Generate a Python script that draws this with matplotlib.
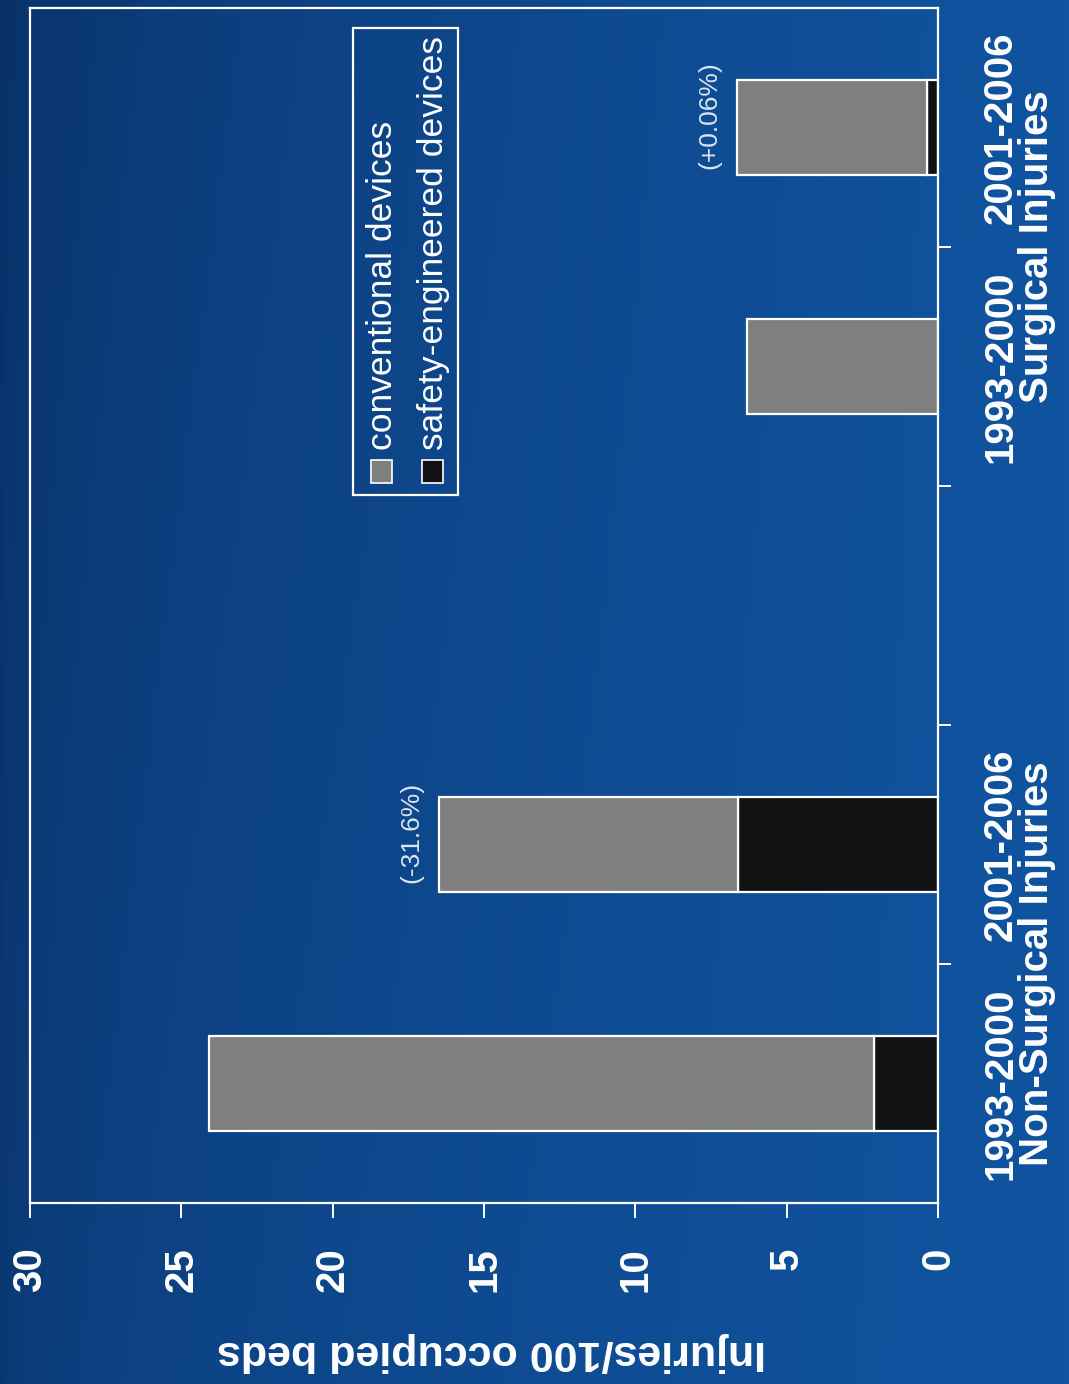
import numpy as np
import matplotlib
matplotlib.use("Agg")
import matplotlib.pyplot as plt
from matplotlib.patches import Rectangle
from matplotlib.transforms import blended_transform_factory

# dados (lesões por 100 leitos ocupados)
periodos = ["1993-2000", "2001-2006", "1993-2000", "2001-2006"]
grupos = ["Non-Surgical Injuries", "Surgical Injuries"]
posicoes = [0, 1, 3, 4]
safety = [2.1, 6.6, 0.0, 0.35]
conventional = [22.0, 9.9, 6.3, 6.3]
variacoes = ["(-31.6%)", "(+0.06%)"]
variacao_pos = [1, 4]
valor_ticks = [0, 5, 10, 15, 20, 25, 30]

W, H = 1069, 1384
fig = plt.figure(figsize=(W / 100, H / 100), dpi=100)
plt.rcParams["font.family"] = ["Liberation Sans", "DejaVu Sans"]

# fundo azul em degradê
bg = fig.add_axes([0, 0, 1, 1], zorder=-10)
xx, yy = np.meshgrid(np.linspace(0, 1, 300), np.linspace(0, 1, 300))
t = np.clip(0.45 + 0.55 * np.sqrt(xx) - 0.15 * (1 - yy) * (1 - xx), 0, 1)
c0 = np.array([6, 32, 78]) / 255
c1 = np.array([16, 84, 160]) / 255
img = c0[None, None, :] * (1 - t[..., None]) + c1[None, None, :] * t[..., None]
bg.imshow(img, aspect="auto", extent=[0, 1, 0, 1])
bg.axis("off")

def fx(px):
    return px / W

def fy(py):
    return 1 - py / H

ax = fig.add_axes([fx(30), fy(1203), fx(938) - fx(30), fy(8) - fy(1203)])
ax.patch.set_alpha(0)

branco = "white"
cinza = "#7f7f7f"
preto = "#121214"

ax.barh(posicoes, safety, height=0.40, color=preto, edgecolor=branco, linewidth=1.6)
ax.barh(posicoes, conventional, left=safety, height=0.40, color=cinza,
        edgecolor=branco, linewidth=1.6)

ax.set_xlim(30, 0)
ax.set_ylim(-0.5, 4.5)

for s in ax.spines.values():
    s.set_color(branco)
    s.set_linewidth(1.6)

ax.set_xticks(valor_ticks)
ax.set_xticklabels([str(v) for v in valor_ticks])
ax.tick_params(axis="x", colors=branco, direction="out", length=11, width=1.4,
               pad=21, labelrotation=90, labelsize=29)
for lab in ax.get_xticklabels():
    lab.set_fontweight("bold")

ax.yaxis.tick_right()
ax.set_yticks([0.5, 1.5, 2.5, 3.5])
ax.set_yticklabels([])
ax.tick_params(axis="y", colors=branco, direction="out", length=9, width=1.4)

# rótulos das categorias (lado direito, girados)
tr = blended_transform_factory(fig.transFigure, ax.transData)
for p, per in zip(posicoes, periodos):
    ax.text(fx(1001), p, per, transform=tr, rotation=90, ha="center", va="center",
            color=branco, fontsize=29, fontweight="bold")
for g, p in zip(grupos, [0.5, 3.5]):
    ax.text(fx(1037), p, g, transform=tr, rotation=90, ha="center", va="center",
            color=branco, fontsize=29, fontweight="bold")

# variações percentuais
totais = [s + c for s, c in zip(safety, conventional)]
for txt, p in zip(variacoes, variacao_pos):
    i = posicoes.index(p)
    ax.text(totais[i] + 0.9, p + 0.05, txt, rotation=90, ha="center", va="center",
            color="#dfe4ee", fontsize=19)

# rótulo do eixo de valores (de cabeça para baixo)
fig.text(fx(492), fy(1352), "Injuries/100 occupied beds", rotation=180,
         ha="center", va="center", color=branco, fontsize=31, fontweight="bold")

# legenda desenhada à mão (girada)
leg = fig.add_axes([0, 0, 1, 1], zorder=5)
leg.set_xlim(0, W)
leg.set_ylim(H, 0)
leg.axis("off")
leg.add_patch(Rectangle((353, 28), 105, 467, fill=False, edgecolor=branco, lw=1.6))
itens = [("conventional devices", cinza, 382), ("safety-engineered devices", preto, 433)]
for nome, cor, xc in itens:
    leg.add_patch(Rectangle((xc - 11, 460), 21, 23, facecolor=cor, edgecolor=branco, lw=1.2))
    leg.text(xc, 450, nome, rotation=90, rotation_mode="anchor", ha="left",
             va="center", color=branco, fontsize=25.5)

plt.savefig("out.png", dpi=100)
plt.close()
